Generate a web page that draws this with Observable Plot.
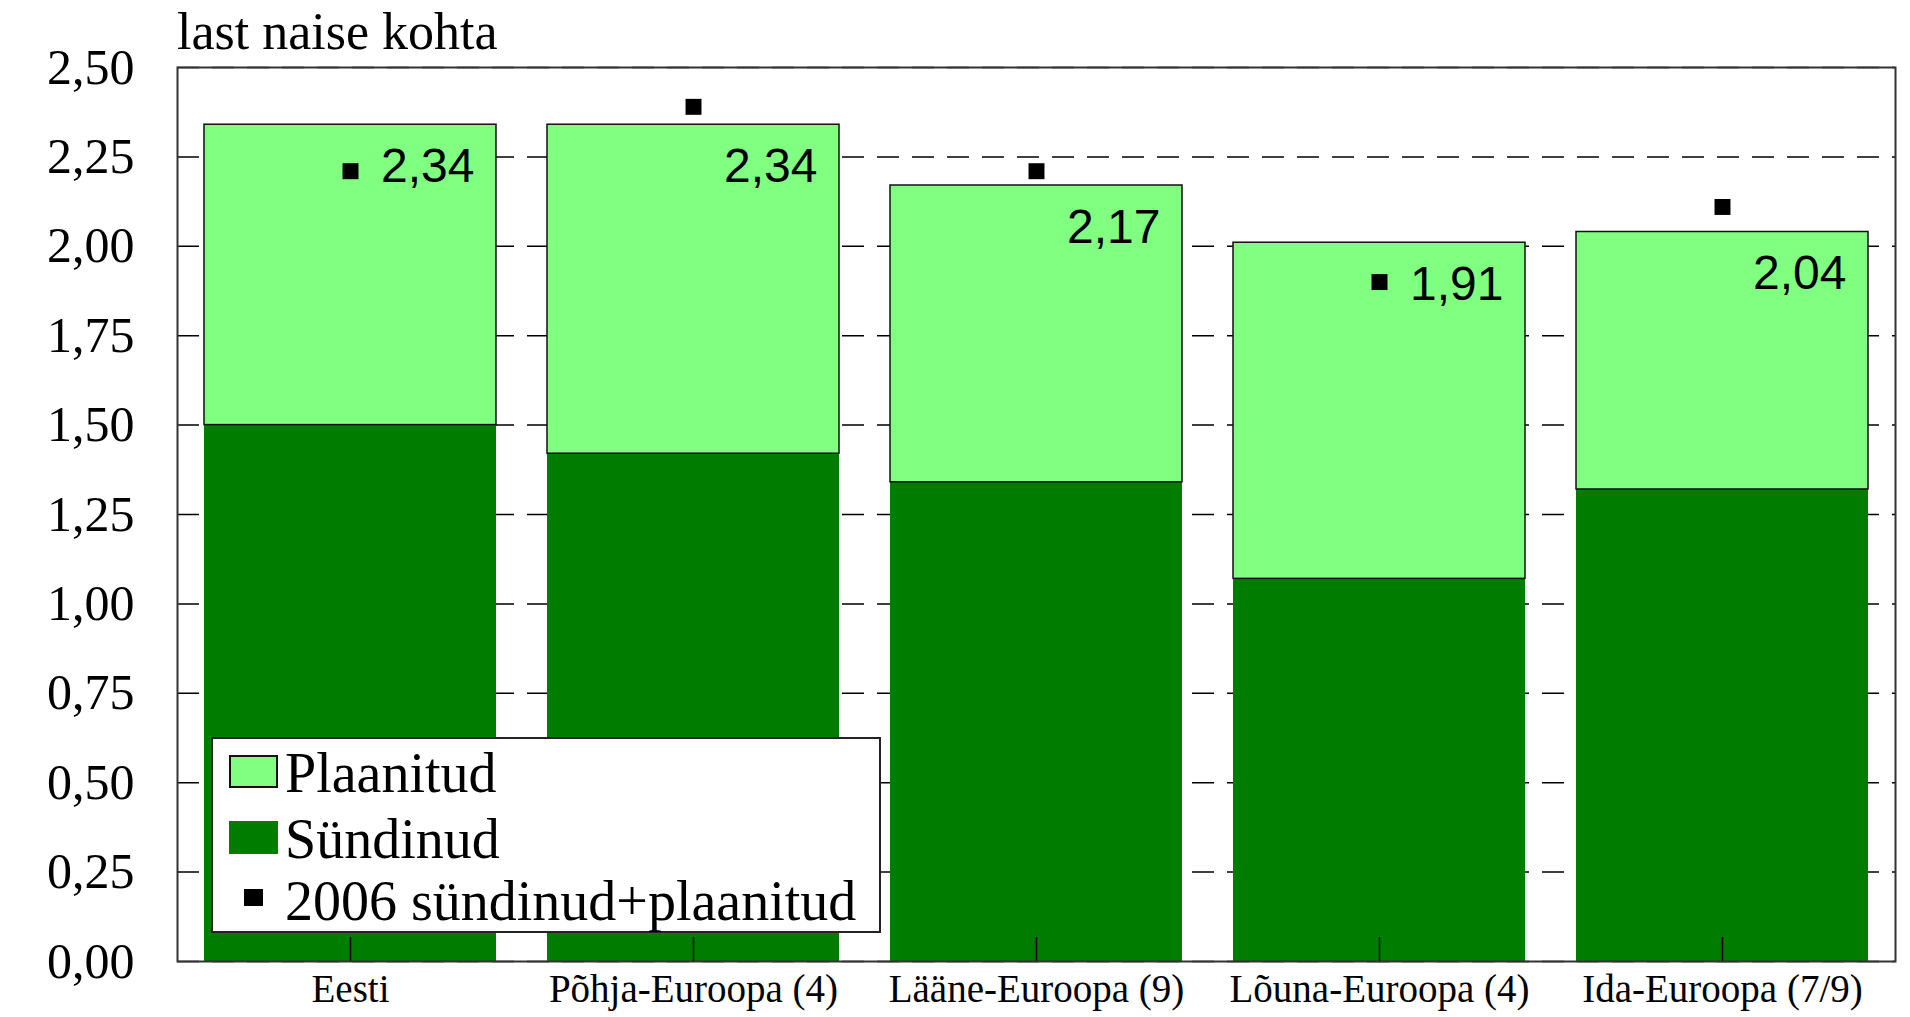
<!DOCTYPE html>
<html><head><meta charset="utf-8">
<script src="https://cdn.jsdelivr.net/npm/d3@7"></script>
<script src="https://cdn.jsdelivr.net/npm/@observablehq/plot@0.6"></script>
<style>
body{margin:0;background:#fff;}
#wrap{position:relative;width:1910px;height:1017px;overflow:hidden;background:#fff;}
#chart svg{display:block;}
#title{position:absolute;left:177px;top:2px;font-family:"Liberation Serif",serif;font-size:52px;line-height:normal;color:#000;}
#legend{position:absolute;left:211px;top:737px;width:666px;height:192px;border:2px solid #222;background:#fff;}
#legend .item{position:absolute;left:0;height:40px;font-family:"Liberation Serif",serif;font-size:56px;line-height:40px;color:#000;white-space:nowrap;}
#legend .sw{position:absolute;}
#legend .lab{position:absolute;left:72px;}
</style></head>
<body>
<div id="wrap"><div id="chart"></div><div id="title"></div><div id="legend"></div></div>
<script>
const titleText = "last naise kohta";
const regions = ["Eesti", "Põhja-Euroopa (4)", "Lääne-Euroopa (9)", "Lõuna-Euroopa (4)", "Ida-Euroopa (7/9)"];
const born = [1.50, 1.42, 1.34, 1.07, 1.32];
const total = [2.34, 2.34, 2.17, 2.01, 2.04];
const survey2006 = [2.21, 2.39, 2.21, 1.90, 2.11];
const valueLabels = ["2,34", "2,34", "2,17", "1,91", "2,04"];
const yTicks = [0, 0.25, 0.5, 0.75, 1, 1.25, 1.5, 1.75, 2, 2.25, 2.5];
const seriesNames = ["Plaanitud", "Sündinud", "2006 sündinud+plaanitud"];

const lightGreen = "#80ff80", darkGreen = "#007d00";
const rows = regions.map((r, i) => ({region: r, born: born[i], total: total[i], s2006: survey2006[i], label: valueLabels[i]}));
const fmt = d => d.toFixed(2).replace(".", ",");

const chart = Plot.plot({
  width: 1910, height: 1017,
  marginLeft: 177, marginRight: 15, marginTop: 67, marginBottom: 56,
  style: {fontFamily: '"Liberation Serif", serif', background: "white", color: "#000"},
  x: {domain: regions, paddingInner: 0.15, paddingOuter: 0.075, label: null},
  y: {domain: [0, 2.5], label: null},
  marks: [
    Plot.gridY(yTicks, {stroke: "#000", strokeOpacity: 1, strokeWidth: 1.5, strokeDasharray: "22,13"}),
    Plot.barY(rows, {x: "region", y1: 0, y2: "born", fill: darkGreen}),
    Plot.barY(rows, {x: "region", y1: "born", y2: "total", fill: lightGreen, stroke: "#111", strokeWidth: 1.5}),
    Plot.ruleX(rows, {x: "region", y1: 0, y2: 0, insetTop: -24, stroke: "#000", strokeWidth: 1.5}),
    Plot.dot(rows, {x: "region", y: "s2006", symbol: "square", r: 9, fill: "#000", stroke: null}),
    Plot.text(rows, {x: "region", y: "total", text: "label", textAnchor: "end", dx: 124, dy: 42,
      fontFamily: '"Liberation Sans", Arial, sans-serif', fontSize: 48, fill: "#000"}),
    Plot.axisY({ticks: yTicks, tickFormat: fmt, tickSize: 0, tickPadding: 43, fontSize: 50, label: null}),
    Plot.axisX({tickSize: 0, tickPadding: 13, fontSize: 39, label: null}),
    Plot.frame({stroke: "#333", strokeWidth: 2})
  ]
});
document.getElementById("chart").appendChild(chart);
document.getElementById("title").textContent = titleText;

const legend = document.getElementById("legend");
const legendRows = [
  {name: seriesNames[0], top: 14, sw: {left: 16, top: 2, w: 49, h: 33, bg: lightGreen, border: "2px solid #111"}},
  {name: seriesNames[1], top: 80, sw: {left: 16, top: 2, w: 49, h: 33, bg: darkGreen, border: "none"}},
  {name: seriesNames[2], top: 142, sw: {left: 31, top: 8, w: 19, h: 17, bg: "#000", border: "none"}}
];
legendRows.forEach(r => {
  const item = document.createElement("div");
  item.className = "item";
  item.style.top = r.top + "px";
  const sw = document.createElement("div");
  sw.className = "sw";
  Object.assign(sw.style, {left: r.sw.left + "px", top: r.sw.top + "px", width: r.sw.w + "px", height: r.sw.h + "px", background: r.sw.bg, border: r.sw.border, boxSizing: "border-box"});
  const lab = document.createElement("span");
  lab.className = "lab";
  lab.textContent = r.name;
  item.appendChild(sw); item.appendChild(lab);
  legend.appendChild(item);
});
</script>
</body></html>
